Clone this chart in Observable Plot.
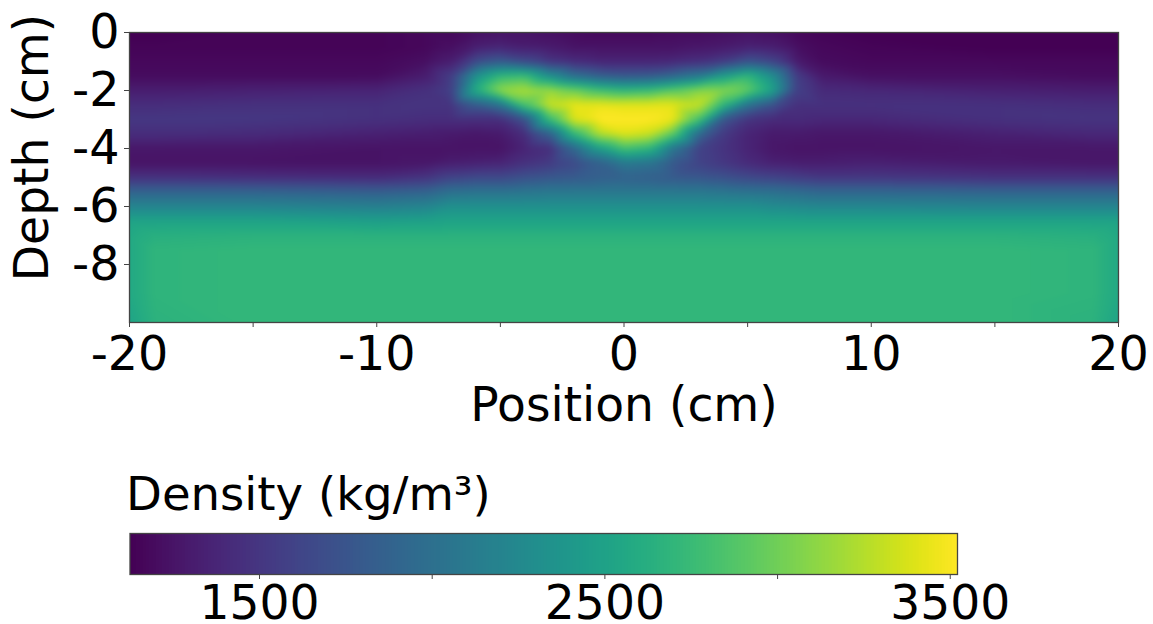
<!DOCTYPE html>
<html><head><meta charset="utf-8">
<style>html,body{margin:0;padding:0;background:#fff}svg{display:block}</style>
<script src="https://cdn.jsdelivr.net/npm/d3@7"></script>
<script src="https://cdn.jsdelivr.net/npm/@observablehq/plot@0.6"></script>
</head><body><div id="a"></div><div id="b"></div>
<script>
const depths=[0,-.5,-1,-1.5,-2,-2.5,-3,-3.5,-4,-4.5,-5,-5.5,-6,-6.5,-7,-7.5,-8,-9,-10];
const positions=[-20,-19,-15,-10,-8,-7,-6,-5,-4,-3,-2,-1,0,1,2,3,4,5,6,7,8,10,15,19,20];
const densityByColumn=[
[1125,1149,1173,1197,1317,1436,1508,1436,1269,1245,1460,1892,2203,2515,2563,2563,2563,2563,2515],
[1125,1149,1173,1197,1317,1436,1508,1436,1269,1245,1460,1892,2203,2515,2635,2682,2682,2682,2658],
[1149,1149,1173,1197,1341,1460,1508,1413,1269,1245,1436,1892,2203,2515,2658,2706,2706,2706,2706],
[1149,1149,1173,1197,1365,1460,1460,1341,1245,1245,1413,1844,2155,2467,2658,2706,2706,2706,2706],
[1173,1173,1221,1317,1460,1484,1436,1317,1245,1269,1484,1892,2203,2491,2658,2706,2706,2706,2706],
[1173,1221,1317,1556,1580,1484,1436,1293,1245,1317,1604,2012,2323,2515,2658,2706,2706,2706,2706],
[1221,1317,1652,2323,2611,1796,1436,1269,1245,1341,1652,2036,2323,2515,2658,2706,2706,2706,2706],
[1245,1365,1796,2706,3135,2036,1436,1293,1245,1365,1652,2036,2323,2515,2658,2706,2706,2706,2706],
[1245,1317,1652,2755,3235,2850,1724,1436,1365,1460,1724,2059,2323,2515,2658,2706,2706,2706,2706],
[1221,1293,1484,2323,3162,3330,2755,1844,1436,1532,1772,2083,2323,2515,2658,2706,2706,2706,2706],
[1197,1245,1413,1988,3000,3449,3401,2706,1916,1652,1796,2083,2323,2515,2658,2706,2706,2706,2706],
[1173,1245,1365,1844,2802,3449,3521,3235,2443,1844,1844,2083,2323,2515,2658,2706,2706,2706,2706],
[1173,1245,1365,1780,2706,3425,3521,3401,2802,2083,1868,2083,2323,2515,2658,2706,2706,2706,2706],
[1173,1245,1365,1796,2755,3425,3521,3330,2682,2036,1844,2083,2323,2515,2658,2706,2706,2706,2706],
[1197,1245,1389,1916,2922,3425,3449,2900,2036,1772,1796,2083,2323,2515,2658,2706,2706,2706,2706],
[1197,1269,1436,2083,3090,3330,2850,1964,1604,1604,1772,2083,2323,2515,2658,2706,2706,2706,2706],
[1221,1293,1532,2443,3090,2706,1772,1532,1484,1508,1724,2059,2323,2515,2658,2706,2706,2706,2706],
[1245,1341,1724,2706,2950,2036,1484,1365,1365,1413,1652,2036,2323,2515,2658,2706,2706,2706,2706],
[1221,1317,1604,2323,2515,1724,1413,1293,1269,1341,1604,2012,2275,2515,2658,2706,2706,2706,2706],
[1173,1221,1293,1556,1580,1460,1413,1293,1245,1317,1556,1964,2251,2515,2658,2706,2706,2706,2706],
[1149,1173,1197,1293,1413,1460,1389,1269,1245,1317,1508,1916,2227,2515,2658,2706,2706,2706,2706],
[1125,1149,1173,1221,1389,1460,1389,1269,1245,1341,1508,1916,2227,2515,2658,2706,2706,2706,2706],
[1125,1125,1173,1221,1341,1460,1460,1341,1269,1293,1460,1892,2203,2515,2658,2706,2706,2706,2706],
[1125,1125,1173,1197,1317,1436,1484,1389,1269,1269,1460,1892,2203,2515,2635,2682,2682,2682,2658],
[1125,1125,1173,1197,1317,1436,1484,1389,1269,1269,1460,1892,2203,2515,2563,2563,2563,2563,2515]
];
const xTicks=[-20,-15,-10,-5,0,5,10,15,20];
const xLabels=[-20,-10,0,10,20];
const yTicks=[0,-2,-4,-6,-8];
const barTicks=[1500,2000,2500,3000,3500];
const barLabels=[1500,2500,3500];
const barDomain=[1125,3521];

const font="DejaVu Sans", fs=47.6, axisColor="#444";
const samples=positions.flatMap((x,i)=>depths.map((y,j)=>({x,y,v:densityByColumn[i][j]})));
const main=Plot.plot({
  width:1153,height:440,marginTop:32,marginBottom:118,marginLeft:129,marginRight:35,
  style:{fontFamily:font,fontSize:fs+"px",color:"#000",background:"#fff"},
  x:{domain:[-20,20]},y:{domain:[-10,0]},
  color:{type:"linear",scheme:"viridis",domain:barDomain},
  marks:[
    Plot.raster(samples,{x:"x",y:"y",fill:"v",interpolate:"barycentric",blur:3,pixelSize:1,x1:-20,x2:20,y1:-10,y2:0}),
    Plot.frame({stroke:axisColor,strokeWidth:1.3}),
    Plot.axisX({ticks:xTicks,tickSize:5,tickPadding:9,stroke:axisColor,fontSize:fs,
      tickFormat:d=>xLabels.includes(d)?String(d):"",label:null}),
    Plot.axisY({ticks:yTicks,tickSize:5,tickPadding:5,stroke:axisColor,fontSize:fs,
      tickFormat:d=>String(d),label:null}),
    Plot.text(["Position (cm)"],{frameAnchor:"bottom",dy:98,fontSize:47.2,fill:"#000"}),
    Plot.text(["Depth (cm)"],{frameAnchor:"left",textAnchor:"middle",rotate:-90,dx:-97,dy:-30,fontSize:47.2,fill:"#000"})
  ]
});
document.getElementById("a").append(main);
const bar=Plot.plot({
  width:1153,height:184,marginTop:93,marginBottom:50,marginLeft:129.5,marginRight:196,
  style:{fontFamily:font,fontSize:fs+"px",color:"#000",background:"#fff"},
  x:{domain:barDomain},y:{domain:[0,1],axis:null},
  color:{type:"linear",scheme:"viridis",domain:barDomain},
  marks:[
    Plot.raster({fill:(x,y)=>x,x1:barDomain[0],x2:barDomain[1],y1:0,y2:1,pixelSize:1}),
    Plot.frame({stroke:axisColor,strokeWidth:1.3}),
    Plot.axisX({ticks:barTicks,tickSize:5,tickPadding:6,stroke:axisColor,fontSize:47.2,
      tickFormat:d=>barLabels.includes(d)?String(d):"",label:null}),
    Plot.text(["Density (kg/m³)"],{frameAnchor:"top-left",dx:-4,dy:-57,textAnchor:"start",fontSize:46.6,fill:"#000"})
  ]
});
document.getElementById("b").append(bar);
</script></body></html>
